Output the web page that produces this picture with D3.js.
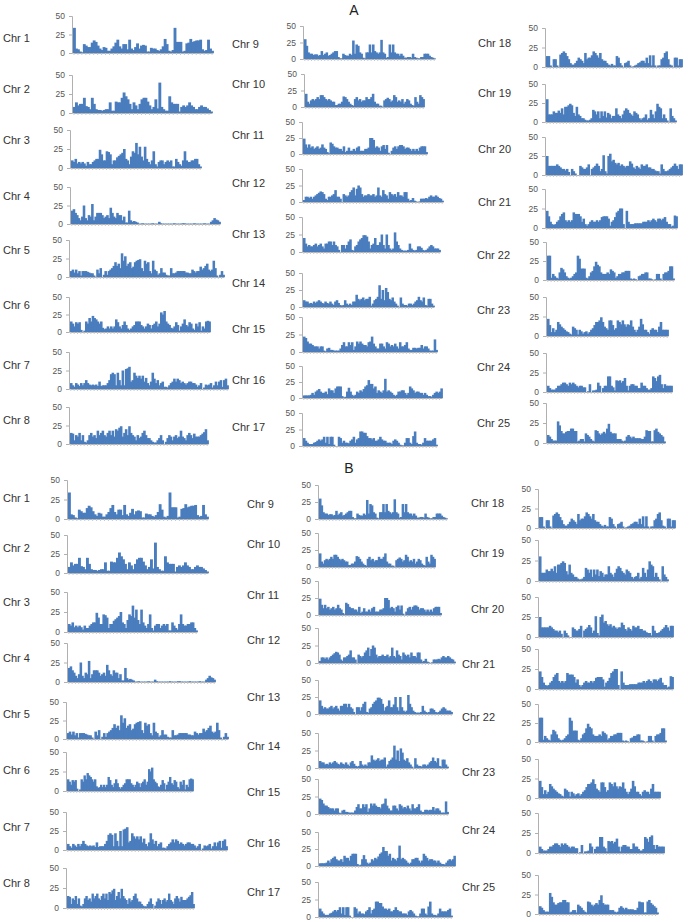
<!DOCTYPE html>
<html>
<head>
<meta charset="utf-8">
<script src="https://cdn.jsdelivr.net/npm/d3@7"></script>
<style>
body { margin: 0; background: #fff; }
text { font-family: "Liberation Sans", Arial, sans-serif; }
</style>
</head>
<body>
<svg id="chart" width="689" height="922"></svg>
<script>
// marker counts per bin along each chromosome
var chr1 = [34,6,5,2,1,12,10,8,8,14,17,15,10,6,4,8,7,3,3,6,9,14,18,9,6,12,12,5,18,6,4,8,13,6,10,11,10,2,2,7,6,6,4,3,5,9,19,12,3,2,4,34,15,15,15,2,3,13,14,19,15,16,17,17,18,5,3,4,18,6,3];
var chr2 = [8,14,10,12,12,20,9,8,5,20,12,5,4,4,3,4,5,5,14,3,3,15,14,14,20,27,22,18,12,5,14,10,5,12,18,20,20,15,10,5,8,18,6,40,8,5,3,3,22,14,12,12,12,2,8,10,8,10,14,10,8,5,5,8,10,8,8,6,4,2];
var chr3 = [10,8,12,6,8,6,8,6,3,8,5,5,8,10,12,12,24,18,10,10,22,21,18,5,10,10,14,16,18,20,25,12,10,5,15,22,20,33,18,28,15,10,28,12,8,5,10,22,5,2,8,10,10,5,8,10,8,10,2,2,12,8,5,3,10,22,10,8,8,10,10,12,12,5,2];
var chr4 = [18,20,15,12,8,5,10,25,8,5,12,10,27,5,10,15,15,15,12,8,10,12,8,22,15,10,8,15,12,12,5,10,2,2,18,5,3,4,3,2,
  0.5,0.5,1,0.5,0.5,0.5,0.5,0.5,1,0.5,0.5,0.5,3,1,0.5,0.5,0.5,0.5,0.5,0.5,0.5,1,0.5,0.5,0.5,0.5,1,1,0.5,0.5,0.5,0.5,0.5,1,0.5,0.5,0.5,0.5,0.5,1,0.5,0.5,0.5,
  3,5,8,6,5,3];
var chr5 = [8,10,6,10,5,8,2,8,8,8,7,6,5,5,2,0,10,5,12,0,3,8,3,8,10,12,15,20,15,18,12,32,22,28,15,18,20,12,14,20,22,23,24,12,8,22,18,20,8,5,22,10,8,3,5,12,6,6,3,2,2,12,5,5,6,8,8,8,8,8,6,6,5,5,10,8,6,8,8,14,10,12,15,18,10,8,10,22,12,2,0,3,8,3];
var chr6 = [15,12,8,14,12,14,3,0,2,15,12,20,15,23,20,18,15,12,15,6,4,5,8,5,8,5,8,18,14,8,5,10,15,10,5,3,5,8,10,15,15,15,10,8,5,8,12,10,5,10,12,15,8,12,28,25,30,15,12,10,6,5,8,14,10,2,8,12,18,10,8,14,12,5,3,12,8,14,2,8,5,15,16,15];
var chr7 = [8,5,3,8,6,4,8,5,8,12,8,6,5,6,5,6,4,10,4,5,5,5,8,12,20,22,20,5,22,12,5,25,5,27,28,30,10,12,22,18,15,18,14,18,10,15,8,5,10,22,14,8,12,5,8,10,3,3,2,5,8,10,14,10,14,12,8,10,8,6,8,10,10,8,8,6,3,5,8,0,2,6,5,6,8,2,5,10,5,10,12,3,12,14,5];
var chr8 = [15,14,5,12,10,15,5,12,3,2,5,12,15,10,12,8,18,12,15,18,12,10,15,18,12,18,10,20,18,22,24,10,15,20,12,24,15,12,10,5,12,8,10,15,18,12,8,8,5,3,2,2,5,8,12,5,0,3,8,12,10,5,10,12,8,10,18,10,8,5,12,15,12,8,14,10,10,10,12,14,16,20,5];
var chr9 = [30,20,10,8,8,6,7,7,5,6,12,6,8,10,5,6,8,10,12,12,3,1,1,8,6,5,5,8,6,28,8,22,20,10,8,2,1,10,10,22,10,22,12,10,8,10,29,10,8,2,3,22,10,22,10,8,8,5,8,5,2,2,3,3,2,8,3,2,1,1,3,3,8,8,8,5,3,2,1];
var chr10 = [20,8,5,10,12,10,12,15,12,18,18,15,12,10,12,10,8,8,3,3,5,5,8,16,15,12,8,5,3,2,12,15,10,12,8,10,10,15,12,12,15,20,8,5,5,2,2,0,10,12,14,12,8,10,18,15,8,10,8,12,5,8,12,10,5,3,2,15,8,5,18,15,12];
var chr11 = [24,15,10,15,10,12,8,10,12,8,10,15,10,8,3,1,18,16,12,10,10,8,8,5,12,3,5,10,5,5,8,5,10,12,5,5,5,8,8,10,25,25,22,10,12,10,5,12,14,8,14,2,0,5,10,12,8,12,14,14,12,8,10,10,8,5,8,5,8,5,10,12,12,12,3];
var chr12 = [3,8,8,6,8,5,8,10,12,14,16,15,12,5,3,8,8,10,12,18,8,8,5,0,12,10,8,10,15,18,22,10,20,25,22,12,8,10,10,12,10,10,12,8,10,22,10,8,18,12,10,5,15,12,10,12,8,15,10,10,8,15,15,5,2,3,6,2,1,0,1,5,5,5,6,5,8,10,8,8,10,8,6,5,2];
var chr13 = [20,12,8,10,8,8,10,12,8,10,12,8,5,12,12,15,15,10,15,10,8,3,0,10,10,5,10,15,18,3,2,8,10,15,18,20,24,24,22,15,5,10,12,20,10,10,14,25,10,5,25,10,5,3,5,28,15,10,5,3,2,2,2,3,12,5,3,2,3,8,8,6,3,2,3,5,8,10,8,5,5,5,3];
var chr14 = [10,8,8,5,6,5,8,6,8,10,8,6,5,8,6,5,8,5,3,8,10,6,3,2,3,10,5,3,5,3,8,8,18,12,10,12,14,10,12,12,15,2,5,10,12,15,32,12,25,10,28,22,12,10,14,8,5,2,0,14,5,3,3,2,5,5,3,5,8,10,15,10,8,14,3,2,12,12,5,2];
var chr15 = [22,20,15,12,12,10,8,8,8,5,8,8,2,1,5,6,3,3,2,2,2,2,5,10,14,8,8,14,10,14,3,8,15,12,15,12,10,10,8,14,15,22,12,8,5,5,12,12,8,5,14,12,8,10,8,12,8,5,14,8,8,10,14,5,3,3,6,6,5,6,6,10,5,8,8,5,2,2,2,18,3];
var chr16 = [4,4,4,4,5,8,5,10,12,14,10,8,8,10,6,15,12,12,8,15,18,18,18,3,1,2,10,16,10,5,3,5,10,8,12,10,14,18,20,28,22,22,15,18,8,12,10,8,12,30,10,12,10,8,5,3,5,10,10,12,12,8,5,8,18,15,12,8,10,10,8,8,5,8,5,3,3,2,5,8,10,8,10,15];
var chr17 = [12,8,5,3,3,3,5,6,8,10,8,10,14,5,14,3,14,14,2,0,0,14,12,5,8,5,5,4,8,10,14,5,10,12,22,22,20,20,15,12,12,10,12,8,8,10,14,10,8,8,5,5,5,3,8,10,8,5,2,1,1,5,12,12,5,3,15,22,5,3,3,2,5,12,8,8,8,8,10,12,2];
var chr18 = [14,14,2,0,10,10,2,0,16,18,20,18,14,10,5,3,3,5,8,12,10,8,5,18,10,12,12,15,20,18,15,12,18,10,8,8,5,3,2,4,2,2,14,12,5,2,0,5,6,8,2,0,1,2,3,5,6,8,8,5,12,5,15,2,15,2,0,2,2,10,12,18,20,10,3,2,0,12,12,2,10,10];
var chr19 = [30,10,10,10,14,12,12,15,12,18,10,20,20,22,24,22,12,8,20,10,8,5,5,3,2,2,3,5,16,14,10,14,5,14,8,14,6,12,10,5,8,8,18,10,8,5,10,15,18,16,12,10,8,14,12,10,5,3,5,6,10,3,5,16,10,5,14,24,20,18,5,10,5,2,0,18,8,5,2];
var chr20 = [25,12,12,12,12,12,14,12,10,8,8,6,8,4,0,8,5,2,0,0,12,10,8,8,10,14,0,8,10,12,15,12,5,8,26,5,2,25,28,18,20,16,14,16,12,14,12,10,12,12,18,15,10,8,12,10,8,14,12,12,14,10,10,8,8,6,5,5,2,14,8,5,5,6,8,10,12,15,12,8,14,14];
var chr21 = [22,15,8,5,4,5,8,10,15,18,20,10,8,10,8,10,20,18,18,18,15,8,12,5,3,5,8,10,8,8,10,8,10,14,15,15,15,12,3,8,10,14,20,22,25,25,5,0,22,8,5,5,5,6,6,6,6,6,8,8,8,10,8,10,12,10,8,12,12,10,12,14,8,5,5,2,3,16,15];
var chr22 = [32,32,3,8,5,3,2,10,16,14,10,5,3,2,3,5,8,10,32,28,15,15,15,3,2,5,10,12,18,24,20,18,10,8,8,8,10,8,14,12,10,3,5,8,8,10,10,12,12,12,2,1,2,1,0,5,6,8,8,10,10,2,2,1,0,1,8,8,2,0,8,10,10,12,18,18,2];
var chr23 = [22,14,5,10,5,8,18,15,12,10,8,6,5,3,2,12,10,8,2,8,6,3,5,6,3,5,8,10,14,18,18,20,24,18,12,10,8,20,20,14,8,10,20,18,15,20,15,12,15,14,20,12,8,5,8,12,22,15,8,8,5,3,8,10,8,8,5,12,18,8,8,8,8];
var chr24 = [8,5,3,3,3,5,8,8,10,12,12,10,8,12,10,12,10,8,6,8,8,6,6,0,1,10,0,2,2,3,12,8,0,5,8,8,20,20,8,6,2,15,14,15,12,14,18,8,2,8,10,10,8,8,5,5,12,8,8,5,3,3,5,20,18,14,20,22,10,5,10,8,8,8,8];
var chr25 = [10,8,5,3,3,3,27,22,15,12,12,14,15,15,18,18,15,15,2,3,5,5,2,12,10,8,5,3,2,16,15,12,10,12,14,12,18,24,14,12,12,12,5,5,5,3,2,3,8,10,8,6,8,6,6,6,6,5,5,8,16,15,15,2,2,16,18,14,12,10,8,2];

var chrData = [chr1,chr2,chr3,chr4,chr5,chr6,chr7,chr8,chr9,chr10,chr11,chr12,chr13,
  chr14,chr15,chr16,chr17,chr18,chr19,chr20,chr21,chr22,chr23,chr24,chr25];
var chrNames = d3.range(1, 26).map(function(i) { return 'Chr ' + i; });
var yTicks = [0, 25, 50];
var titles = ['A', 'B'];

// panel boxes: [axisX, right, y of 50, y of 0, labelX, labelY]
var layoutA = [
  [72,213,16,53,3,38],[72,212,75,113,3,89],[70,201,130,168,3,140],[70,220,187,224,3,196],
  [69,224,240,277,3,250],[69,210,297,332,3,305],[69,228,352,389,3,365],[69,208,407,444,3,420],
  [303,435,26,59,232,44],[304,424,74,107,232,84],[302,427,122,154,232,135],[302,443,169,202,232,183],
  [302,440,217,252,232,234],[302,434,273,307,232,283],[302,437,317,352,232,329],[302,442,366,398,232,380],
  [302,437,413,446,232,427],
  [545,682,28,67,478,43],[545,676,84,122,478,93],[545,682,137,175,478,149],[545,677,189,228,478,202],
  [546,674,242,280,477,255],[546,668,297,336,477,310],[546,672,353,392,477,367],[546,665,403,443,477,423]
];
var layoutB = [
  [67,208,480,519,3,498],[67,208,535,573,3,548],[67,197,592,632,3,602],[67,215,643,682,3,658],
  [66,228,702,739,3,714],[66,193,752,791,3,770],[66,227,812,850,3,827],[66,194,868,908,3,883],
  [318,447,485,519,247,504],[318,435,533,567,247,544],[318,441,581,615,247,595],[318,455,628,663,247,640],
  [318,452,680,714,247,697],[318,448,733,768,247,746],[318,448,779,814,247,792],[318,455,832,866,247,843],
  [318,452,882,917,247,892],
  [538,675,489,528,471,503],[538,668,540,581,471,553],[538,673,597,637,471,609],[538,673,649,689,462,664],
  [538,666,704,742,462,717],[538,660,759,798,462,772],[538,664,813,853,462,830],[538,658,875,914,462,887]
];
var titlePos = [[354,15],[349,473]];

var svg = d3.select('#chart');
var barColor = '#4a7dbd';
var axisColor = '#b0b0b0';

function drawPanel(parent, values, lay, name) {
    var g = parent.append('g');
    var x = d3.scaleBand()
        .domain(d3.range(values.length))
        .range([lay[0] + 1, lay[1]])
        .padding(0);
    var y = d3.scaleLinear()
        .domain([0, 50])
        .range([lay[3], lay[2]]);

    g.append('text')
        .attr('x', lay[4])
        .attr('y', lay[5] + 4)
        .attr('font-size', 11)
        .attr('fill', '#333')
        .text(name);

    // slight overlap so neighbouring bars merge into one solid profile
    g.selectAll('rect')
        .data(values)
        .enter()
        .append('rect')
            .attr('x', function(d, i) { return x(i); })
            .attr('width', x.bandwidth() + 0.9)
            .attr('y', function(d) { return y(d); })
            .attr('height', function(d) { return y(0) - y(d); })
            .attr('fill', barColor);

    var yAxis = g.append('g')
        .attr('transform', 'translate(' + lay[0] + ',0)')
        .call(d3.axisLeft(y).tickValues(yTicks).tickSize(3).tickPadding(4));
    yAxis.select('.domain').attr('stroke', axisColor);
    yAxis.selectAll('.tick line').attr('stroke', axisColor);
    yAxis.selectAll('.tick text')
        .attr('font-family', '"Liberation Sans", Arial, sans-serif')
        .attr('font-size', 8.5)
        .attr('fill', '#555');

    var xAxis = g.append('g')
        .attr('transform', 'translate(0,' + lay[3] + ')')
        .call(d3.axisBottom(x)
            .tickValues(d3.range(0, values.length, 2))
            .tickSize(2)
            .tickSizeOuter(0)
            .tickFormat(''));
    xAxis.select('.domain').attr('stroke', axisColor);
    xAxis.selectAll('.tick line').attr('stroke', '#c8c8c8');
}

[layoutA, layoutB].forEach(function(layout, s) {
    var sec = svg.append('g').attr('class', 'section');
    sec.append('text')
        .attr('x', titlePos[s][0])
        .attr('y', titlePos[s][1])
        .attr('text-anchor', 'middle')
        .attr('font-size', 14)
        .attr('fill', '#222')
        .text(titles[s]);
    layout.forEach(function(lay, i) {
        drawPanel(sec, chrData[i], lay, chrNames[i]);
    });
});
</script>
</body>
</html>
